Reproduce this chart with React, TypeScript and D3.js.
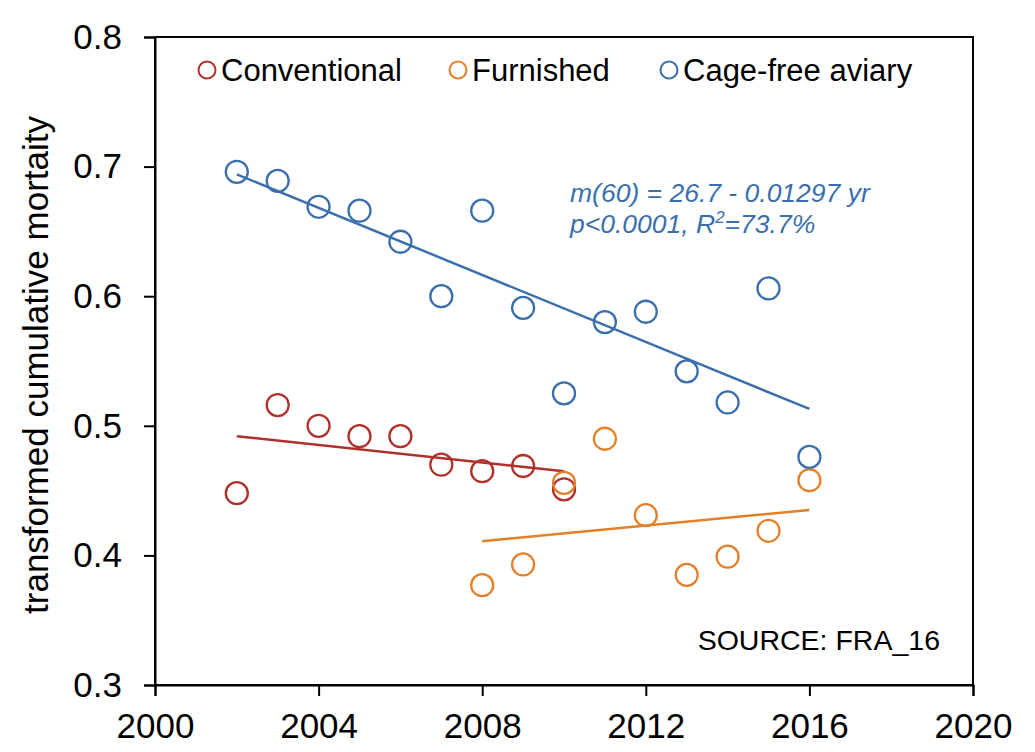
import { useEffect, useRef } from 'react';
import * as d3 from 'd3';

// years and transformed cumulative mortality
const conventionalYears = [2002, 2003, 2004, 2005, 2006, 2007, 2008, 2009, 2010];
const conventionalValues = [0.448, 0.516, 0.5, 0.492, 0.492, 0.47, 0.465, 0.469, 0.451];

const furnishedYears = [2008, 2009, 2010, 2011, 2012, 2013, 2014, 2015, 2016];
const furnishedValues = [0.377, 0.393, 0.456, 0.49, 0.431, 0.385, 0.399, 0.419, 0.458];

const aviaryYears = [2002, 2003, 2004, 2005, 2006, 2007, 2008, 2009, 2010, 2011, 2012, 2013, 2014, 2015, 2016];
const aviaryValues = [0.696, 0.689, 0.669, 0.666, 0.642, 0.6, 0.666, 0.591, 0.525, 0.58, 0.588, 0.542, 0.518, 0.606, 0.476];

// fitted trend lines: [start year, value], [end year, value]
const conventionalTrend = [[2002, 0.492], [2010, 0.465]];
const furnishedTrend = [[2008, 0.411], [2016, 0.435]];
const aviaryTrend = [[2002, 0.694], [2016, 0.513]];

const xTicks = [2000, 2004, 2008, 2012, 2016, 2020];
const yTicks = [0.3, 0.4, 0.5, 0.6, 0.7, 0.8];

const series = [
  { name: 'Conventional', color: '#b0302a', years: conventionalYears, values: conventionalValues, trend: conventionalTrend },
  { name: 'Furnished', color: '#e4802a', years: furnishedYears, values: furnishedValues, trend: furnishedTrend },
  { name: 'Cage-free aviary', color: '#3a6fac', years: aviaryYears, values: aviaryValues, trend: aviaryTrend },
];

export default function App() {
  const svgRef = useRef<SVGSVGElement>(null);

  useEffect(() => {
    document.body.style.margin = '0';
    if (!svgRef.current) return;

    const svg = d3.select(svgRef.current);
    svg.selectAll('*').remove();

    const width = 1035;
    const height = 752;
    const margin = { top: 37, right: 62, bottom: 67, left: 155 };
    const innerWidth = width - margin.left - margin.right;
    const innerHeight = height - margin.top - margin.bottom;
    const font = 'Arial, "Liberation Sans", sans-serif';

    const x = d3.scaleLinear().domain([2000, 2020]).range([0, innerWidth]);
    const y = d3.scaleLinear().domain([0.3, 0.8]).range([innerHeight, 0]);

    const g = svg
      .append('g')
      .attr('transform', `translate(${margin.left},${margin.top})`);

    // frame
    g.append('rect')
      .attr('width', innerWidth)
      .attr('height', innerHeight)
      .attr('fill', 'none')
      .attr('stroke', '#000')
      .attr('stroke-width', 2);

    const xAxis = g
      .append('g')
      .attr('transform', `translate(0,${innerHeight})`)
      .call(d3.axisBottom(x).tickValues(xTicks).tickFormat(d3.format('d')).tickSize(11).tickPadding(17));

    const yAxis = g
      .append('g')
      .call(d3.axisLeft(y).tickValues(yTicks).tickFormat(d3.format('.1f')).tickSize(11).tickPadding(22));

    [xAxis, yAxis].forEach((a) => {
      a.select('.domain').attr('stroke-width', 2);
      a.selectAll('.tick line').attr('stroke-width', 2);
      a.selectAll('text').attr('font-family', font).attr('font-size', 35).attr('fill', '#000');
    });

    g.append('text')
      .attr('transform', 'rotate(-90)')
      .attr('x', -328)
      .attr('y', -107)
      .attr('text-anchor', 'middle')
      .attr('font-family', font)
      .attr('font-size', 35)
      .text('transformed cumulative mortaity');

    const line = d3
      .line<number[]>()
      .x((d) => x(d[0]))
      .y((d) => y(d[1]));

    series.forEach((s) => {
      g.append('path')
        .datum(s.trend)
        .attr('fill', 'none')
        .attr('stroke', s.color)
        .attr('stroke-width', 2.5)
        .attr('d', line);

      g.append('g')
        .selectAll('circle')
        .data(s.years)
        .join('circle')
        .attr('cx', (d) => x(d))
        .attr('cy', (_, i) => y(s.values[i]))
        .attr('r', 11)
        .attr('fill', 'none')
        .attr('stroke', s.color)
        .attr('stroke-width', 2.3);
    });

    // legend
    const legendX = [52, 303, 514];
    const legend = g.append('g').attr('transform', 'translate(0,33)');
    series.forEach((s, i) => {
      legend
        .append('circle')
        .attr('cx', legendX[i])
        .attr('cy', 0)
        .attr('r', 8.5)
        .attr('fill', 'none')
        .attr('stroke', s.color)
        .attr('stroke-width', 2);
      legend
        .append('text')
        .attr('x', legendX[i] + 14)
        .attr('y', 11)
        .attr('font-family', font)
        .attr('font-size', 31)
        .text(s.name);
    });

    // regression note
    const note = g
      .append('text')
      .attr('font-family', font)
      .attr('font-size', 26.5)
      .attr('font-style', 'italic')
      .attr('fill', '#3a6fac');
    note.append('tspan').attr('x', 415).attr('y', 165).text('m(60) = 26.7 - 0.01297 yr');
    const l2 = note.append('tspan').attr('x', 415).attr('y', 196);
    l2.append('tspan').text('p<0.0001, R');
    l2.append('tspan').attr('dy', -10).attr('font-size', 17).text('2');
    l2.append('tspan').attr('dy', 10).text('=73.7%');

    g.append('text')
      .attr('x', 785)
      .attr('y', 613)
      .attr('text-anchor', 'end')
      .attr('font-family', font)
      .attr('font-size', 28.5)
      .text('SOURCE: FRA_16');
  }, []);

  return <svg ref={svgRef} width={1035} height={752} style={{ display: 'block', background: '#fff' }} />;
}
